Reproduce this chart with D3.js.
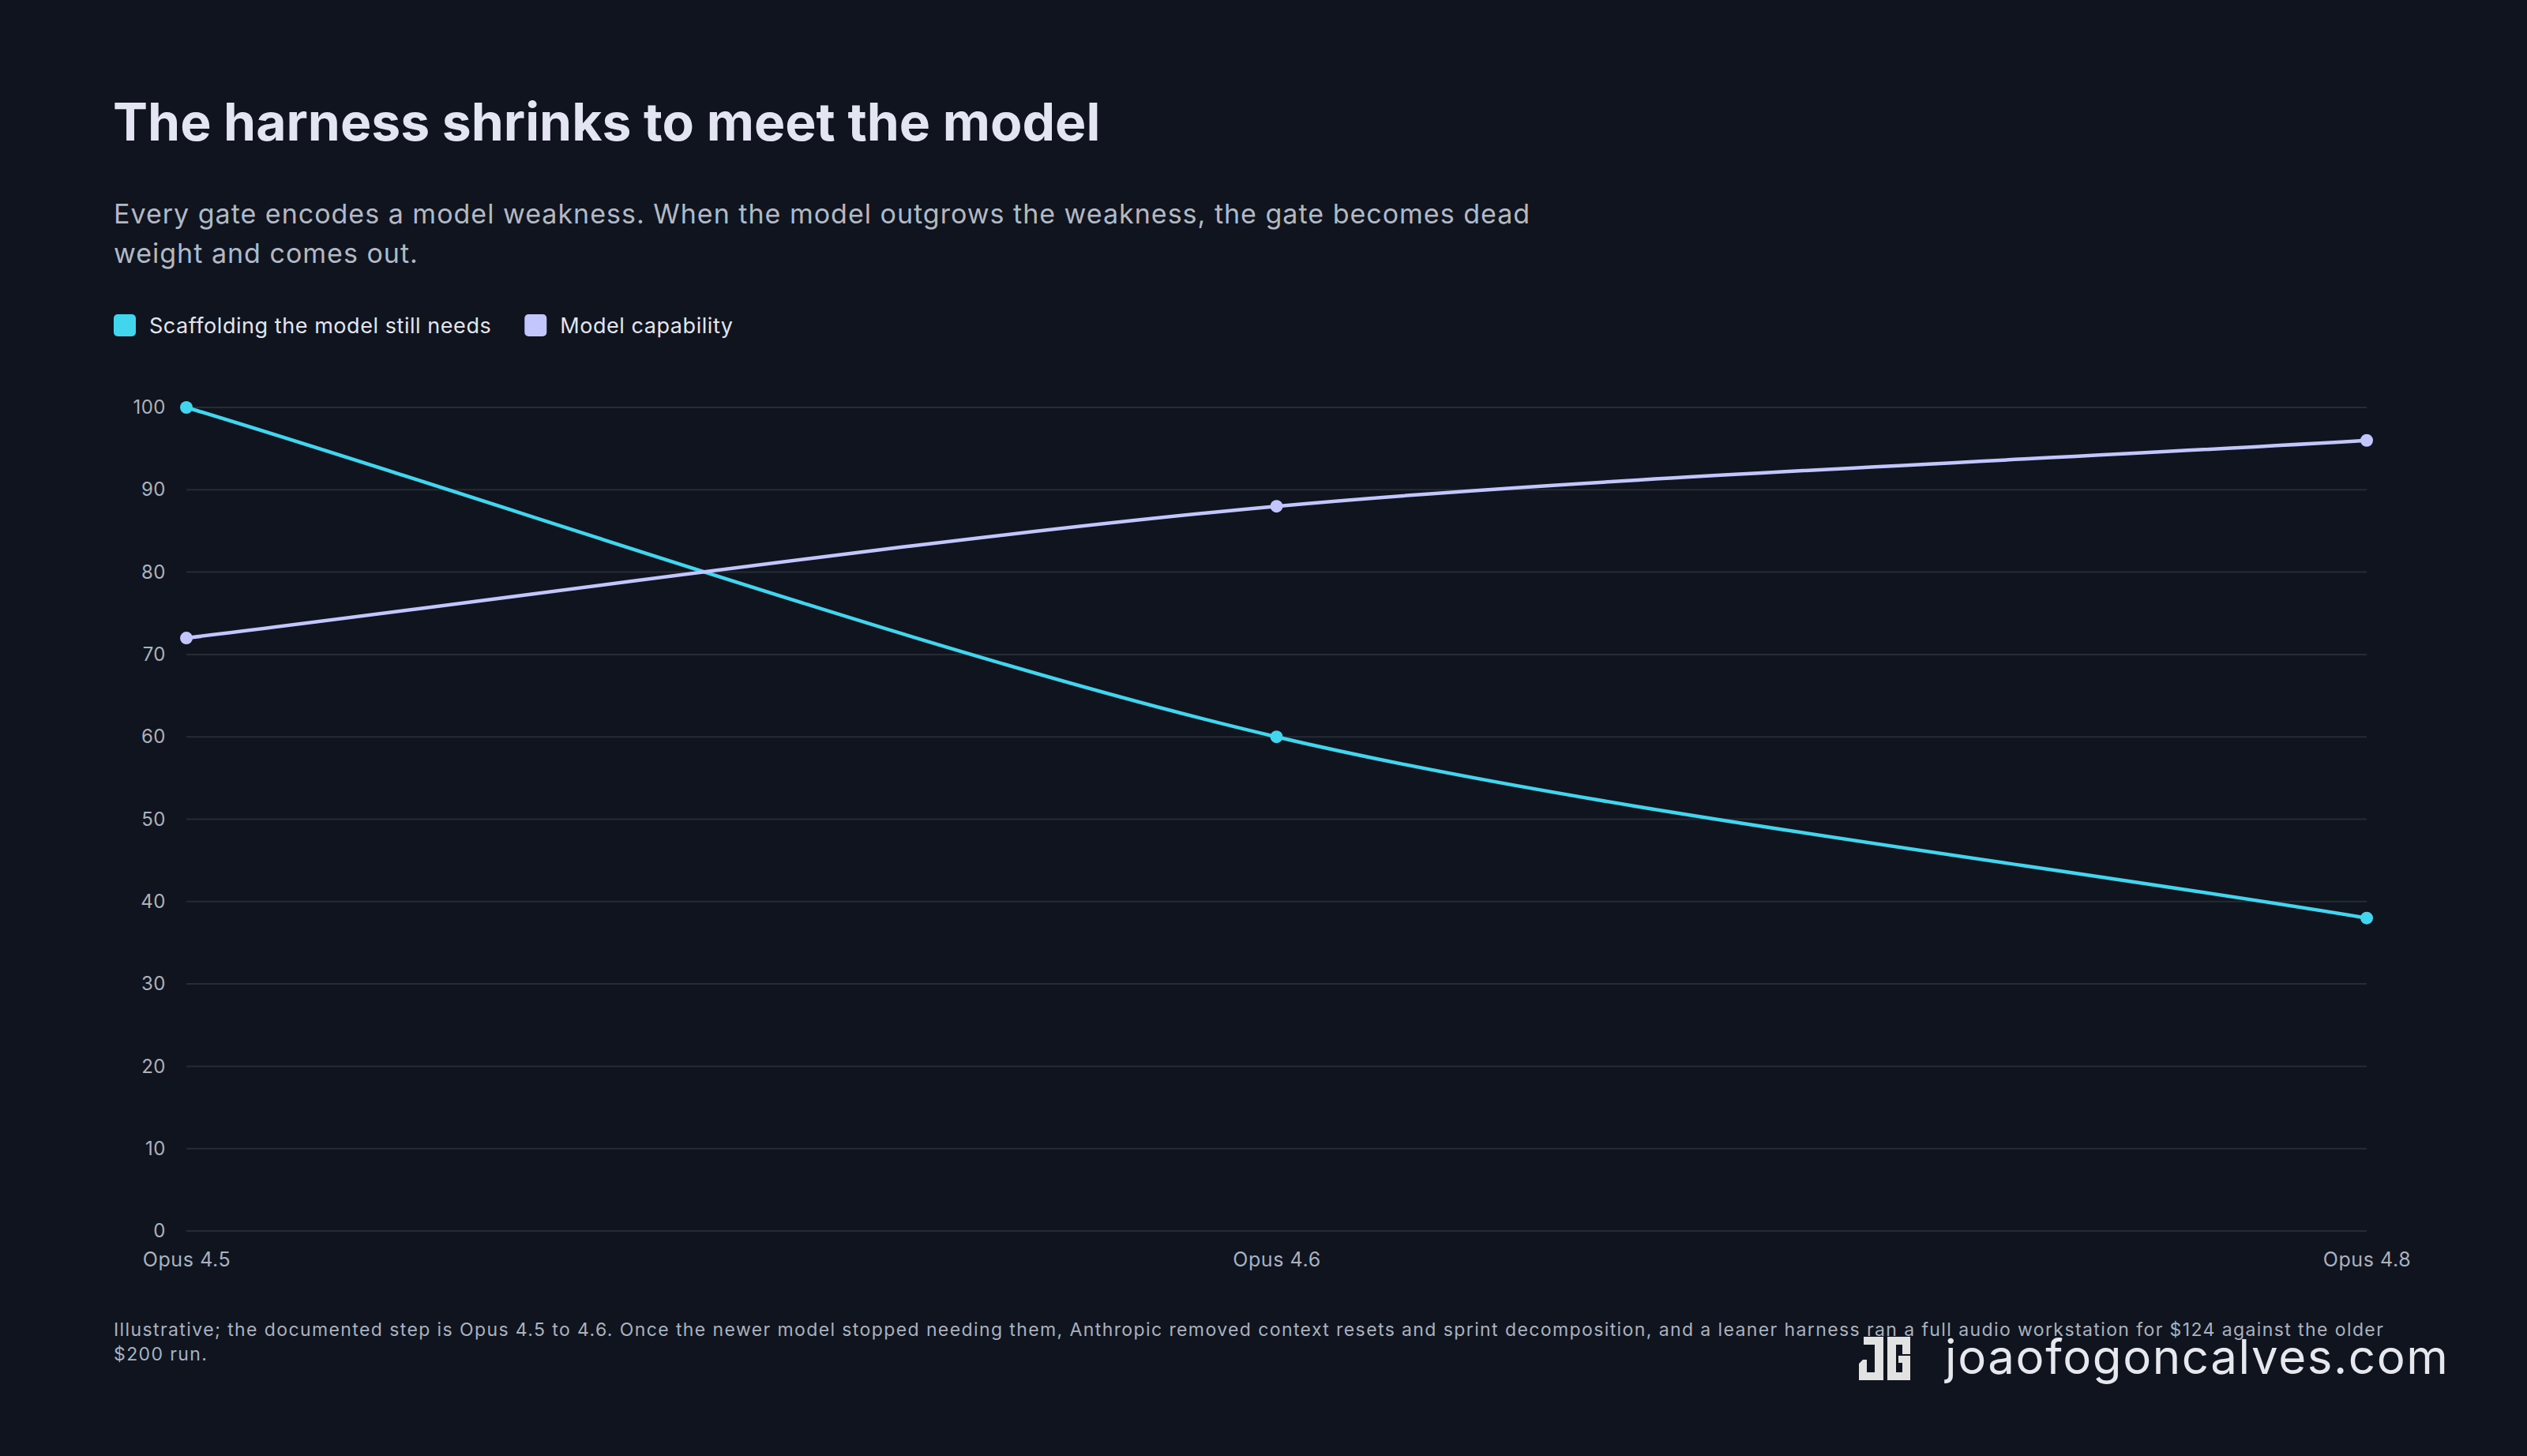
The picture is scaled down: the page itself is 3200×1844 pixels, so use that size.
<!DOCTYPE html>
<html>
<head>
<meta charset="utf-8">
<script src="https://cdn.jsdelivr.net/npm/d3@7"></script>
<style>
  html, body { margin: 0; padding: 0; background: #0f141e; }
  svg { display: block; }
  text { font-family: Inter, "Noto Sans", sans-serif; }
</style>
</head>
<body>
<svg id="chart" width="3200" height="1844"></svg>
<script>
const categories = ["Opus 4.5", "Opus 4.6", "Opus 4.8"];
const scaffolding = [100, 60, 38];
const capability = [72, 88, 96];
const seriesNames = ["Scaffolding the model still needs", "Model capability"];
const yTicks = [0, 10, 20, 30, 40, 50, 60, 70, 80, 90, 100];
const titleText = "The harness shrinks to meet the model";
const subtitleLines = [
  "Every gate encodes a model weakness. When the model outgrows the weakness, the gate becomes dead",
  "weight and comes out."
];
const footerLines = [
  "Illustrative; the documented step is Opus 4.5 to 4.6. Once the newer model stopped needing them, Anthropic removed context resets and sprint decomposition, and a leaner harness ran a full audio workstation for $124 against the older",
  "$200 run."
];
const watermark = "joaofogoncalves.com";

const colors = ["#41d5ee", "#c3c6fd"];
const svg = d3.select("#chart");
svg.append("rect").attr("width", 3200).attr("height", 1844).attr("fill", "#0f141e");

// Title & subtitle
svg.append("text").attr("x", 143).attr("y", 178)
  .attr("font-size", 66).attr("font-weight", 700).attr("fill", "#e3e5f2")
  .attr("letter-spacing", 0)
  .text(titleText);
const sub = svg.append("text").attr("font-size", 34).attr("fill", "#b2b9c5")
  .attr("letter-spacing", 1.0);
subtitleLines.forEach((l, i) => sub.append("tspan").attr("x", 144).attr("y", 283 + i * 50).text(l));

// Legend
let lx = 144;
seriesNames.forEach((name, i) => {
  svg.append("rect").attr("x", lx).attr("y", 398).attr("width", 28).attr("height", 28)
    .attr("rx", 5).attr("fill", colors[i]);
  const t = svg.append("text").attr("x", lx + 45).attr("y", 422)
    .attr("font-size", 27).attr("letter-spacing", 0.55).attr("fill", "#e3e5f0").text(name);
  lx = lx + 45 + t.node().getComputedTextLength() + 42;
});

// Scales
const x = d3.scalePoint().domain(categories).range([236, 2997]);
const y = d3.scaleLinear().domain([0, 100]).range([1559, 516]);

// Grid
svg.append("g").selectAll("line").data(yTicks).join("line")
  .attr("x1", 236).attr("x2", 2997)
  .attr("y1", d => y(d)).attr("y2", d => y(d))
  .attr("stroke", "#262b36").attr("stroke-width", 2);

// Y axis
const yAxis = svg.append("g").attr("transform", "translate(236,0)")
  .call(d3.axisLeft(y).tickValues(yTicks).tickSize(0).tickPadding(26));
yAxis.select(".domain").remove();
yAxis.selectAll("text").attr("font-size", 24).attr("fill", "#aab2bf")
  .attr("letter-spacing", 0.5).attr("font-family", "Inter, sans-serif");

// X axis
const xAxis = svg.append("g").attr("transform", "translate(0,1559)")
  .call(d3.axisBottom(x).tickSize(0).tickPadding(27));
xAxis.select(".domain").remove();
xAxis.selectAll("text").attr("font-size", 25).attr("fill", "#aab2bf")
  .attr("letter-spacing", 0.6).attr("font-family", "Inter, sans-serif");

// Smooth spline (tension-based, control points scaled by neighbour distances)
function splinePath(pts, tension) {
  const p = d3.path();
  const ctrl = pts.map((cur, i) => {
    const prev = pts[Math.max(0, i - 1)], next = pts[Math.min(pts.length - 1, i + 1)];
    const d01 = Math.hypot(cur[0] - prev[0], cur[1] - prev[1]);
    const d12 = Math.hypot(next[0] - cur[0], next[1] - cur[1]);
    const s = d01 + d12 || 1;
    const fa = tension * d01 / s, fb = tension * d12 / s;
    return {
      prev: [cur[0] - fa * (next[0] - prev[0]), cur[1] - fa * (next[1] - prev[1])],
      next: [cur[0] + fb * (next[0] - prev[0]), cur[1] + fb * (next[1] - prev[1])]
    };
  });
  p.moveTo(pts[0][0], pts[0][1]);
  for (let i = 1; i < pts.length; i++) {
    const a = ctrl[i - 1].next, b = ctrl[i].prev;
    p.bezierCurveTo(a[0], a[1], b[0], b[1], pts[i][0], pts[i][1]);
  }
  return p.toString();
}

// Lines
[scaffolding, capability].forEach((s, i) => {
  const pts = s.map((v, j) => [x(categories[j]), y(v)]);
  svg.append("path").attr("d", splinePath(pts, 0.3)).attr("fill", "none")
    .attr("stroke", colors[i]).attr("stroke-width", 4.5).attr("stroke-linejoin", "round");
});
[scaffolding, capability].forEach((s, i) => {
  svg.append("g").selectAll("circle").data(s).join("circle")
    .attr("cx", (d, j) => x(categories[j])).attr("cy", d => y(d))
    .attr("r", 8).attr("fill", colors[i]);
});

// Footer
const foot = svg.append("text").attr("font-size", 23).attr("fill", "#aab2bf")
  .attr("letter-spacing", 1.4);
footerLines.forEach((l, i) => foot.append("tspan").attr("x", 144).attr("y", 1692 + i * 31).text(l));

// Watermark logo (JG)
const logo = svg.append("g").attr("transform", "translate(2352,1693)").attr("fill", "#e2e2e2");
logo.append("path").attr("d",
  "M8,0 H33 V55 H2 V34 L7,29 H12 V45 H22 V10 H8 Z");
logo.append("path").attr("d",
  "M38,0 H67 V22 H57 V10 H49 V45 H57 V33 H52 V24 H67 V55 H38 Z");
svg.append("text").attr("x", 2463).attr("y", 1740).attr("font-size", 60)
  .attr("letter-spacing", 1.6).attr("fill", "#e6e8ee").text(watermark);
</script>
</body>
</html>
